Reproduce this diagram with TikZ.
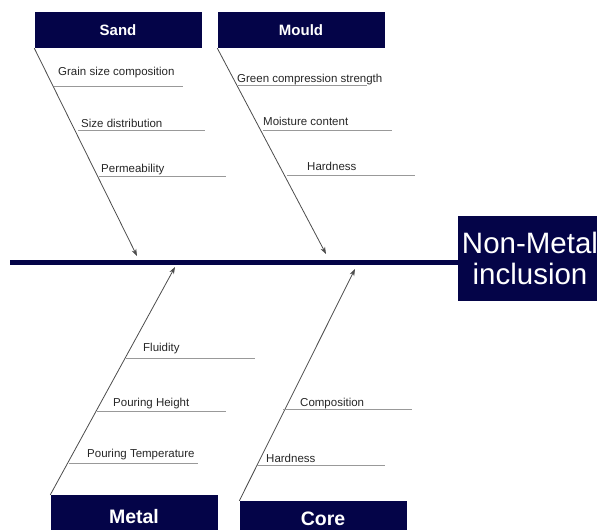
\documentclass[tikz,border=0pt]{standalone}
\usepackage{fontspec}
\setmainfont{Liberation Sans}
\usetikzlibrary{arrows.meta}
\definecolor{navy}{RGB}{4,4,72}

\begin{document}
\begin{tikzpicture}[x=1pt,y=-1pt,
    catbox/.style={fill=navy,text=white,inner sep=0pt,minimum width=167pt,font=\bfseries},
    bone/.style={draw=black!70,line width=0.8pt,-{Stealth[length=7pt,width=5pt]}},
    subline/.style={draw=black!40,line width=0.7pt},
    sublabel/.style={anchor=base west,inner sep=0pt,text=black!85,font=\fontsize{11.5}{13}\selectfont}]
            \clip (0,0) rectangle (597,530);

            \node[catbox,minimum height=36pt,font=\fontsize{15}{18}\selectfont\bfseries] (sand) at (118,30) {Sand};
            \node[catbox,minimum height=36pt,font=\fontsize{15}{18}\selectfont\bfseries] (mould) at (301,30) {Mould};
            \node[catbox,minimum height=44pt,font=\fontsize{19.5}{22}\selectfont\bfseries] (metal) at (134,517) {Metal};
            \node[catbox,minimum height=36pt,font=\fontsize{19.5}{22}\selectfont\bfseries] (core) at (323,519) {Core};
            \node[fill=navy,inner sep=0pt,minimum width=144pt,minimum height=85pt] (effect) at (530,258.5) {};
            \node[text=white,align=center,inner sep=0pt,font=\fontsize{29.5}{31}\selectfont] (effecttext) at (530,258) {Non-Metal\\inclusion};

            \coordinate (tail) at (10,262);
            \draw[navy,line width=5pt] (tail) -- (tail -| effect.west);

            \coordinate (sandhead) at (137,256);
            \coordinate (mouldhead) at (326,254);
            \coordinate (metalhead) at (175,267);
            \coordinate (corehead) at (355,269);
            \draw[bone] (sand.south west) -- (sandhead);
            \draw[bone] (mould.south west) -- (mouldhead);
            \draw[bone] (metal.north west) -- (metalhead);
            \draw[bone] (core.north west) -- (corehead);

            \node[sublabel] (grain) at (58,75) {Grain size composition};
            \draw[subline] (54,86) -- (183,86);
            \node[sublabel] (sizedist) at (81,127) {Size distribution};
            \draw[subline] (78,130) -- (205,130);
            \node[sublabel] (perm) at (101,172) {Permeability};
            \draw[subline] (99,176) -- (226,176);

            \node[sublabel] (green) at (237,82) {Green compression strength};
            \draw[subline] (238,85) -- (367,85);
            \node[sublabel] (moist) at (263,125) {Moisture content};
            \draw[subline] (263,130) -- (392,130);
            \node[sublabel] (mouldhard) at (307,170) {Hardness};
            \draw[subline] (287,175) -- (415,175);

            \node[sublabel] (fluid) at (143,351) {Fluidity};
            \draw[subline] (126,358) -- (255,358);
            \node[sublabel] (pourh) at (113,406) {Pouring Height};
            \draw[subline] (97,411) -- (226,411);
            \node[sublabel] (pourt) at (87,457) {Pouring Temperature};
            \draw[subline] (69,463) -- (198,463);

            \node[sublabel] (compo) at (300,406) {Composition};
            \draw[subline] (283,409) -- (412,409);
            \node[sublabel] (corehard) at (266,462) {Hardness};
            \draw[subline] (257,465) -- (385,465);
        \end{tikzpicture}
\end{document}
